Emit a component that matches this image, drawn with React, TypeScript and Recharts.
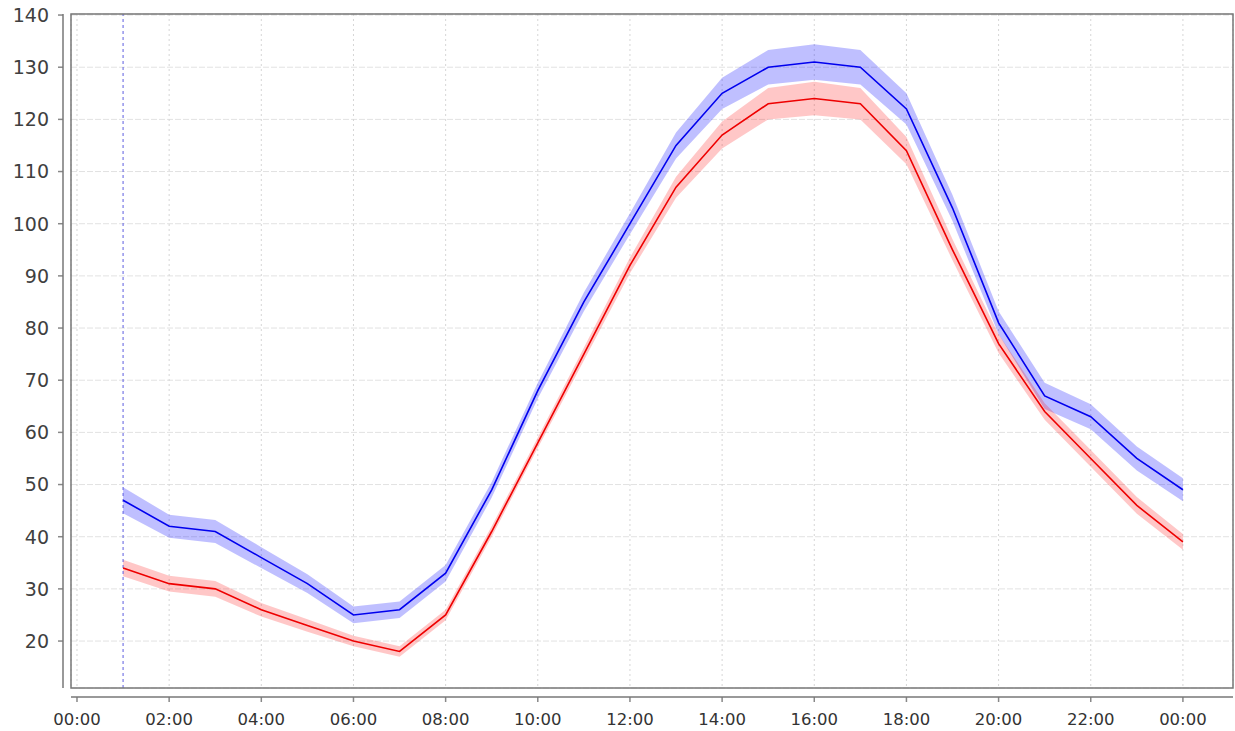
import { ComposedChart, Area, Line, XAxis, YAxis, CartesianGrid, ReferenceLine } from 'recharts';

// hourly readings, 01:00 .. 24:00
const hours = [1, 2, 3, 4, 5, 6, 7, 8, 9, 10, 11, 12, 13, 14, 15, 16, 17, 18, 19, 20, 21, 22, 23, 24];
const blueMean = [47, 42, 41, 36, 31, 25, 26, 33, 49, 68, 85, 100, 115, 125, 130, 131, 130, 122, 103, 81, 67, 63, 55, 49];
const blueDev = [2.5, 2.2, 2.2, 2.0, 1.8, 1.6, 1.6, 1.6, 1.5, 1.5, 1.8, 2.0, 2.5, 3.0, 3.3, 3.4, 3.3, 3.0, 2.5, 2.2, 2.5, 2.4, 2.3, 2.2];
const redMean = [34, 31, 30, 26, 23, 20, 18, 25, 41, 58, 75, 92, 107, 117, 123, 124, 123, 114, 95, 77, 64, 55, 46, 39];
const redDev = [1.6, 1.5, 1.5, 1.3, 1.2, 1.0, 1.0, 1.0, 1.0, 1.0, 1.2, 1.5, 2.0, 2.6, 3.0, 3.2, 3.0, 2.6, 2.0, 1.8, 1.6, 1.6, 1.6, 1.5];

const xTicks = [0, 2, 4, 6, 8, 10, 12, 14, 16, 18, 20, 22, 24];
const yTicks = [20, 30, 40, 50, 60, 70, 80, 90, 100, 110, 120, 130, 140];
const markerHour = 1;

const W = 1235;
const H = 731;
const PLOT_LEFT = 71;
const PLOT_TOP = 14;
const PLOT_RIGHT = 1233;
const PLOT_BOTTOM = 688;
const AXIS_GAP = 8;

const FONT = '"DejaVu Sans", sans-serif';

const data = hours.map((h, i) => ({
    t: h,
    blue: blueMean[i],
    blueBand: [blueMean[i] - blueDev[i], blueMean[i] + blueDev[i]],
    red: redMean[i],
    redBand: [redMean[i] - redDev[i], redMean[i] + redDev[i]],
}));

const fmtHour = (h: number) => `${String(h % 24).padStart(2, '0')}:00`;

function YTick({ x, y, payload }: any) {
    return (
        <g>
            <line x1={x - AXIS_GAP - 5} x2={x - AXIS_GAP} y1={y} y2={y} stroke="#888" strokeWidth={1.5} />
            <text x={x - 22} y={y} dy="0.36em" textAnchor="end" fontSize={19} fontFamily={FONT} fill="#404040">
                {payload.value}
            </text>
        </g>
    );
}

function XTick({ x, y, payload }: any) {
    return (
        <g>
            <line x1={x} x2={x} y1={y + AXIS_GAP + 1} y2={y + AXIS_GAP + 6} stroke="#888" strokeWidth={1.5} />
            <text x={x} y={y + 37} textAnchor="middle" fontSize={16.5} fontFamily={FONT} fill="#333">
                {fmtHour(payload.value)}
            </text>
        </g>
    );
}

export default function App() {
    return (
        <div style={{ position: 'relative', width: W, height: H, background: '#fff' }}>
            <style>{'body{margin:0}'}</style>
            <ComposedChart
                width={W}
                height={H}
                data={data}
                margin={{ top: PLOT_TOP, right: W - PLOT_RIGHT, bottom: 0, left: 0 }}
            >
                <CartesianGrid vertical={false} stroke="#e2e2e2" strokeDasharray="6 2" />
                <CartesianGrid horizontal={false} stroke="#d6d6d6" strokeDasharray="2 3" />
                <XAxis
                    dataKey="t"
                    type="number"
                    domain={[-0.13, 25.087]}
                    ticks={xTicks}
                    allowDataOverflow
                    height={H - PLOT_BOTTOM}
                    axisLine={false}
                    tickLine={false}
                    tickSize={0}
                    tickMargin={0}
                    tick={<XTick />}
                    interval={0}
                />
                <YAxis
                    type="number"
                    domain={[11, 140.2]}
                    ticks={yTicks}
                    allowDataOverflow
                    width={PLOT_LEFT}
                    axisLine={false}
                    tickLine={false}
                    tickSize={0}
                    tickMargin={0}
                    tick={<YTick />}
                    interval={0}
                />
                <ReferenceLine x={markerHour} stroke="#5c5ce0" strokeDasharray="3 3" strokeWidth={1} />
                <Area dataKey="blueBand" stroke="none" fill="#0000ff" fillOpacity={0.25} isAnimationActive={false} />
                <Area dataKey="redBand" stroke="none" fill="#ff0000" fillOpacity={0.22} isAnimationActive={false} />
                <Line dataKey="blue" stroke="#0000ee" strokeWidth={1.6} dot={false} isAnimationActive={false} />
                <Line dataKey="red" stroke="#ee0000" strokeWidth={1.6} dot={false} isAnimationActive={false} />
            </ComposedChart>
            <svg
                width={W}
                height={H}
                style={{ position: 'absolute', left: 0, top: 0, pointerEvents: 'none' }}
            >
                <rect
                    x={PLOT_LEFT}
                    y={PLOT_TOP}
                    width={PLOT_RIGHT - PLOT_LEFT}
                    height={PLOT_BOTTOM - PLOT_TOP}
                    fill="none"
                    stroke="#777"
                    strokeWidth={1.5}
                />
                <line x1={PLOT_LEFT - AXIS_GAP} x2={PLOT_LEFT - AXIS_GAP} y1={PLOT_TOP} y2={PLOT_BOTTOM} stroke="#777" strokeWidth={1.5} />
                <line x1={PLOT_LEFT} x2={PLOT_RIGHT} y1={PLOT_BOTTOM + AXIS_GAP + 1} y2={PLOT_BOTTOM + AXIS_GAP + 1} stroke="#777" strokeWidth={1.5} />
            </svg>
        </div>
    );
}
